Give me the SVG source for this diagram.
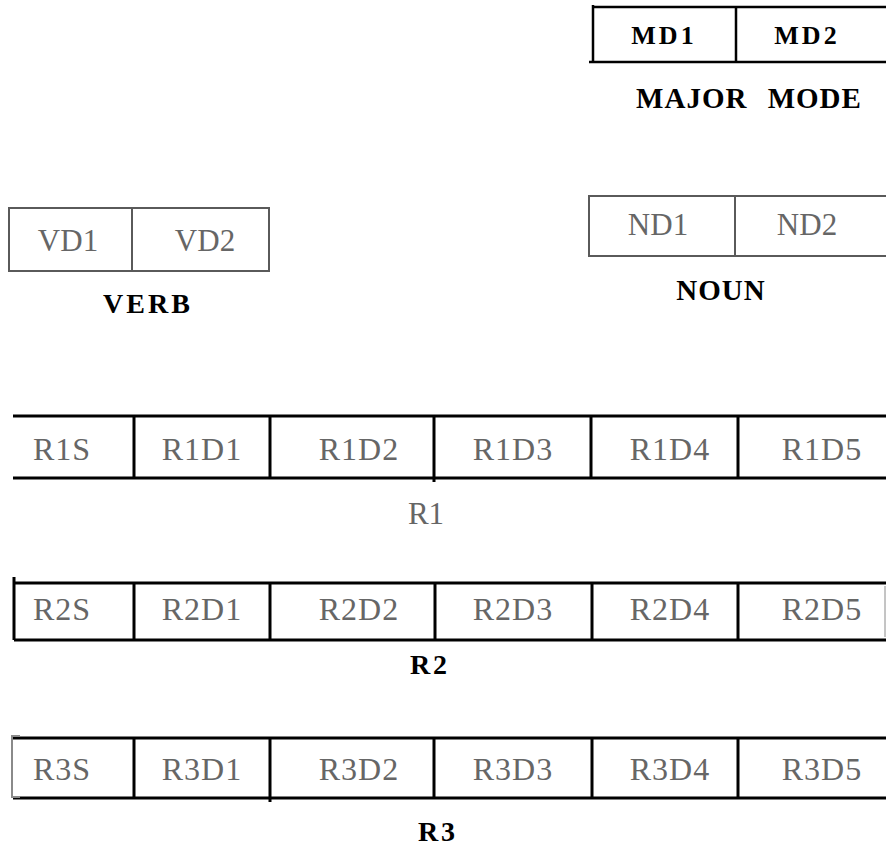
<svg xmlns="http://www.w3.org/2000/svg" width="886" height="849" viewBox="0 0 886 849">
<style>
.bg{fill:#ffffff}
.thick{stroke:#000;stroke-width:3;fill:none}
.md{stroke:#000;stroke-width:2.5;fill:none}
.thin{stroke:#5a5a5a;stroke-width:2;fill:none}
.faint{stroke:#8a8a8a;stroke-width:2;fill:none}
.cell{font-family:"Liberation Serif","DejaVu Serif",serif;font-size:32px;fill:#666;text-anchor:middle;letter-spacing:1px}
.small{font-family:"Liberation Serif","DejaVu Serif",serif;font-size:31px;fill:#666;text-anchor:middle}
.lbl{font-family:"Liberation Serif","DejaVu Serif",serif;font-size:28px;font-weight:bold;fill:#000;text-anchor:middle;letter-spacing:3px}
.mdt{font-family:"Liberation Serif","DejaVu Serif",serif;font-size:26px;font-weight:bold;fill:#000;text-anchor:middle;letter-spacing:3px}
</style>
<rect class="bg" x="0" y="0" width="886" height="849"/>

<g id="major-mode">
  <path class="md" d="M593 7H886M589 62H886M593 5V62M736 7V62"/>
  <text class="mdt" x="664" y="44">MD1</text>
  <text class="mdt" x="807" y="44">MD2</text>
  <text class="lbl" x="749" y="108" style="font-size:29px;letter-spacing:1px;word-spacing:12px">MAJOR MODE</text>
</g>

<g id="verb">
  <path class="thin" d="M9 208H269V271H9ZM132 208V271"/>
  <text class="small" x="68" y="251">VD1</text>
  <text class="small" x="205" y="251">VD2</text>
  <text class="lbl" x="148" y="313">VERB</text>
</g>

<g id="noun">
  <path class="thin" d="M886 196H589V256H886M735 196V256"/>
  <text class="small" x="658" y="235">ND1</text>
  <text class="small" x="807" y="235">ND2</text>
  <text class="lbl" x="721" y="300" style="font-size:29px;letter-spacing:1px">NOUN</text>
</g>

<g id="r1">
  <path class="thick" d="M13 416H886M13 478H886M134 416V478M270 416V478M434 416V482M591 416V478M738 416V478"/>
  <text class="cell" x="62" y="460">R1S</text>
  <text class="cell" x="202" y="460">R1D1</text>
  <text class="cell" x="359" y="460">R1D2</text>
  <text class="cell" x="513" y="460">R1D3</text>
  <text class="cell" x="670" y="460">R1D4</text>
  <text class="cell" x="822" y="460">R1D5</text>
  <text class="small" x="426" y="524">R1</text>
</g>

<g id="r2">
  <path class="thick" d="M14 583H886M14 640H886M14 577V640M134 583V640M270 583V640M435 583V640M592 583V640M738 583V640"/>
  <path class="faint" d="M885 586V637" style="stroke-width:1"/>
  <text class="cell" x="62" y="620">R2S</text>
  <text class="cell" x="202" y="620">R2D1</text>
  <text class="cell" x="359" y="620">R2D2</text>
  <text class="cell" x="513" y="620">R2D3</text>
  <text class="cell" x="670" y="620">R2D4</text>
  <text class="cell" x="822" y="620">R2D5</text>
  <text class="lbl" x="430" y="674">R2</text>
</g>

<g id="r3">
  <path class="thick" d="M13 738H886M13 798H886M134 738V798M270 738V802M434 738V798M592 738V798M738 738V798"/>
  <path class="faint" d="M12 735V798M12 736H20M12 797H20"/>
  <text class="cell" x="62" y="780">R3S</text>
  <text class="cell" x="202" y="780">R3D1</text>
  <text class="cell" x="359" y="780">R3D2</text>
  <text class="cell" x="513" y="780">R3D3</text>
  <text class="cell" x="670" y="780">R3D4</text>
  <text class="cell" x="822" y="780">R3D5</text>
  <text class="lbl" x="438" y="841">R3</text>
</g>

<g id="connectors"></g>
</svg>
